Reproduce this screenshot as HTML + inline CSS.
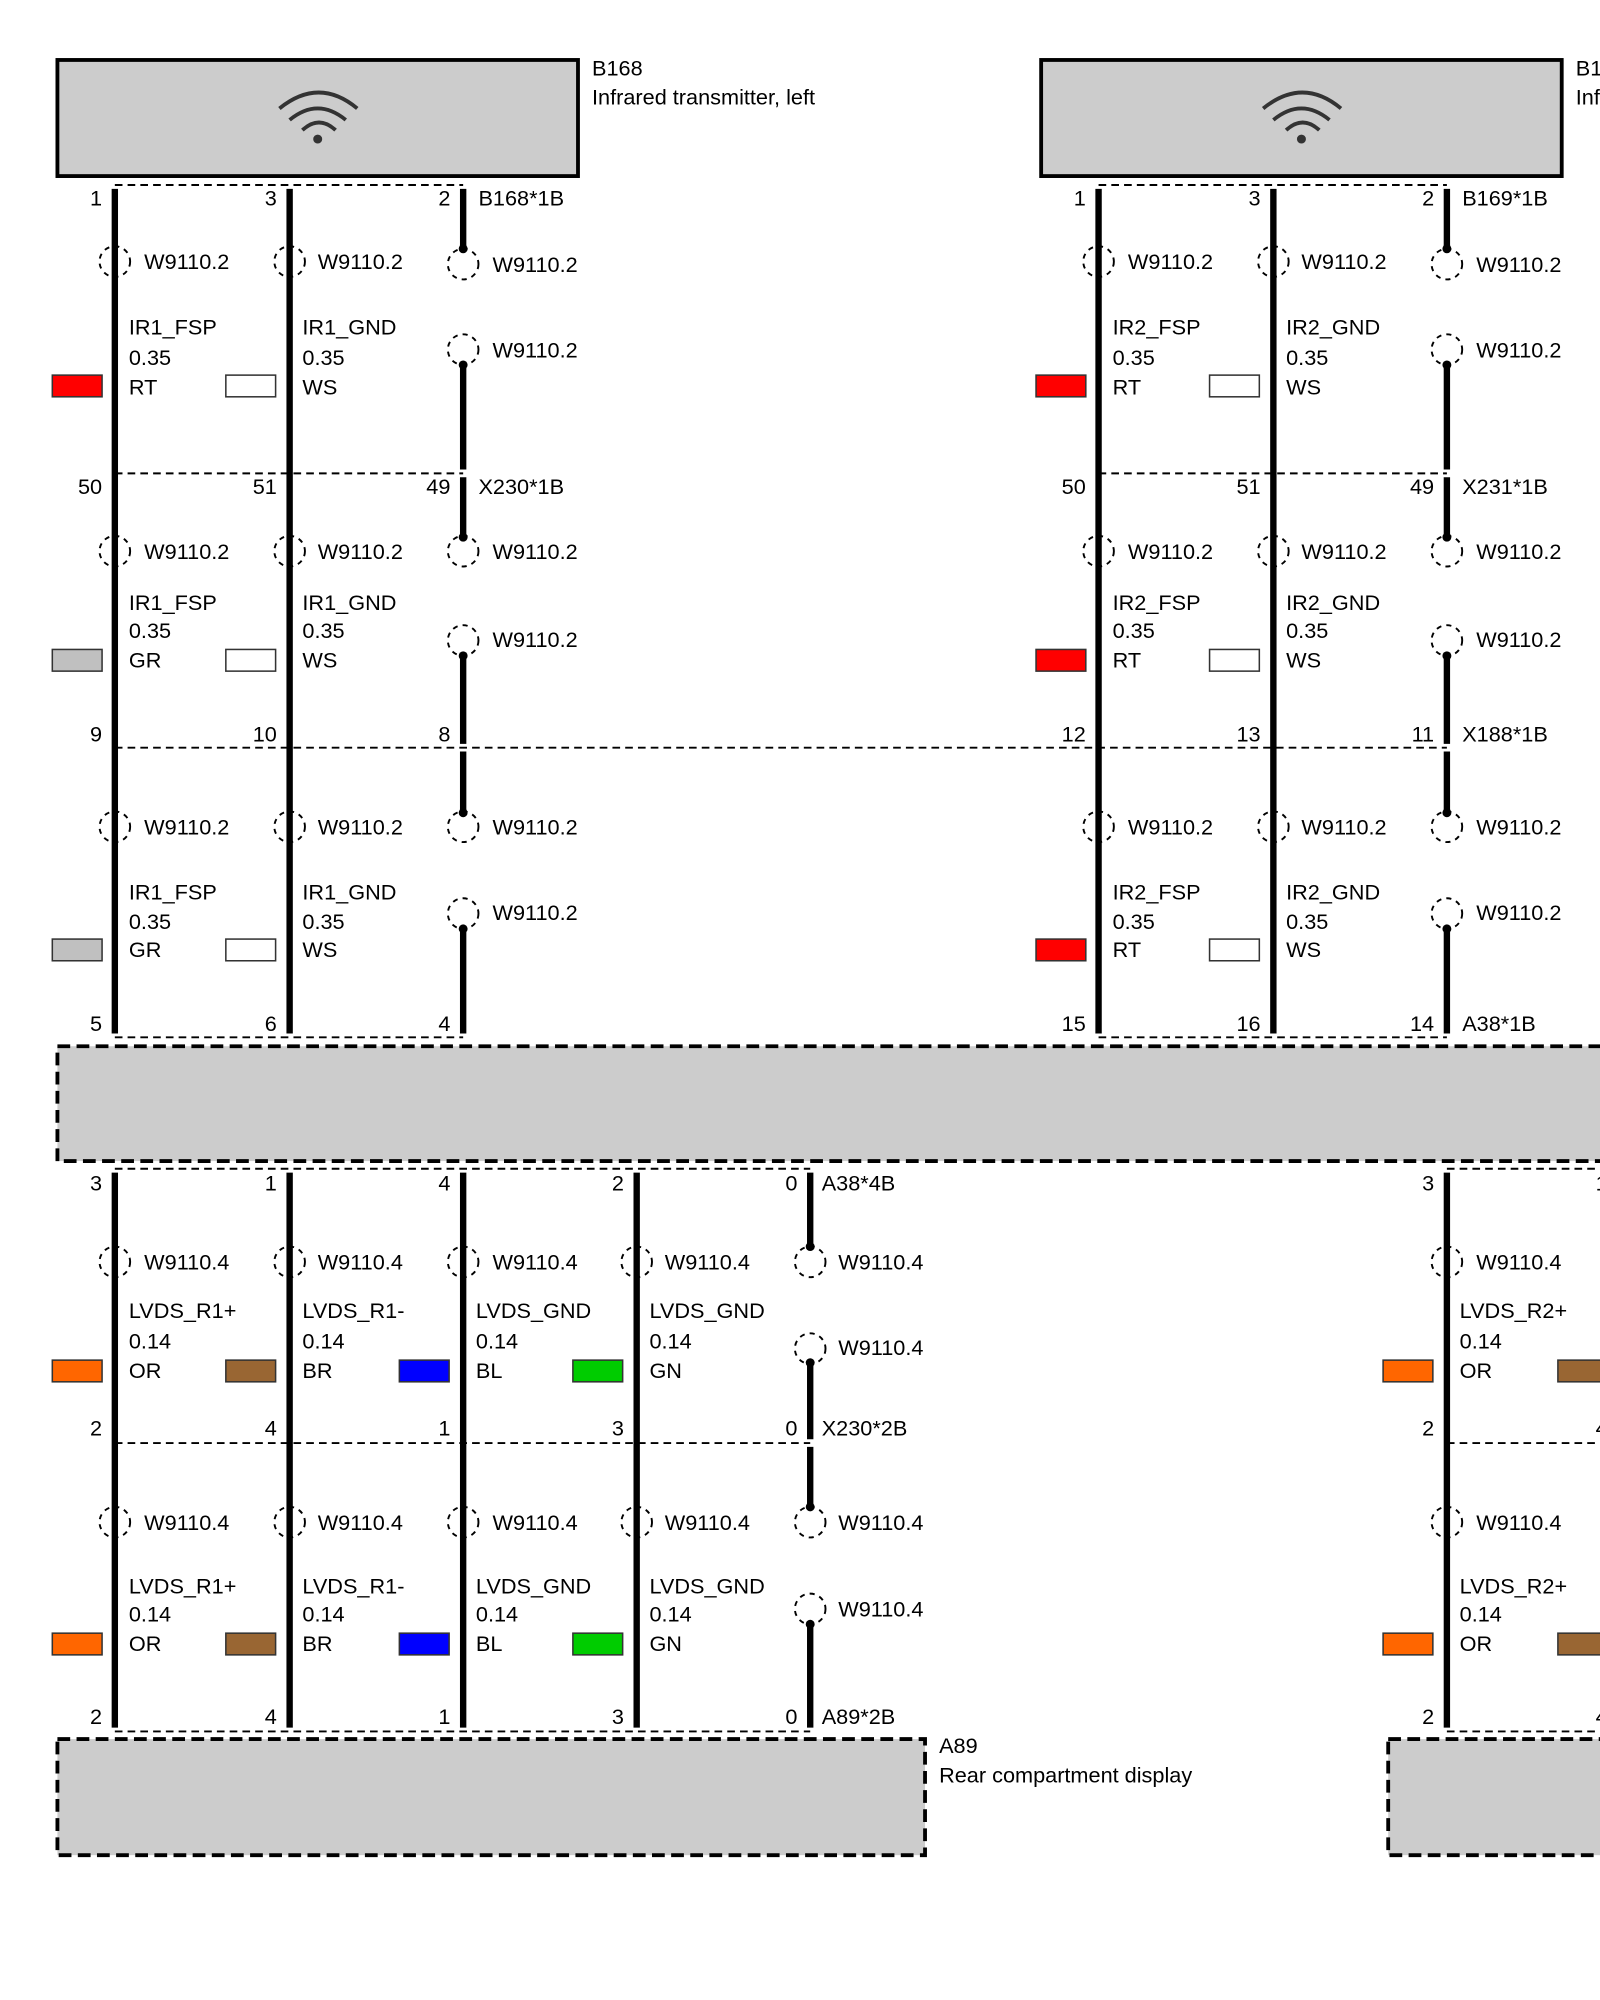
<!DOCTYPE html>
<html><head><meta charset="utf-8"><style>
html,body{margin:0;padding:0;background:#fff;overflow:hidden}
svg{display:block}
text{font-family:"Liberation Sans",sans-serif;font-size:17px;fill:#000}
.w{stroke:#000;stroke-width:5;fill:none}
.d{stroke:#000;stroke-width:1.5;stroke-dasharray:6,4;fill:none}
.c{stroke:#000;stroke-width:1.5;stroke-dasharray:4,4;fill:none}
.e{text-anchor:end}
.sw{stroke:#333;stroke-width:1.2}
.a{stroke:#333;stroke-width:3;fill:none}
</style></head><body>
<svg width="1600" height="2000" viewBox="0 0 1254 1567.5" xmlns="http://www.w3.org/2000/svg">
<!-- Top boxes -->
<rect x="45" y="47" width="408" height="91" fill="#ccc" stroke="#000" stroke-width="3"/>
<rect x="816" y="47" width="408" height="91" fill="#ccc" stroke="#000" stroke-width="3"/>
<g id="wifi">
<path class="a" d="M219 85 Q250 60 280 85"/><path class="a" d="M227 94 Q249 76 271 94"/><path class="a" d="M237 102 Q250 90 263 102"/><circle cx="249" cy="109" r="3.5" fill="#333"/>
</g>
<g transform="translate(771,0)"><path class="a" d="M219 85 Q250 60 280 85"/><path class="a" d="M227 94 Q249 76 271 94"/><path class="a" d="M237 102 Q250 90 263 102"/><circle cx="249" cy="109" r="3.5" fill="#333"/></g>
<text x="464" y="59">B168</text><text x="464" y="82">Infrared transmitter, left</text>
<text x="1235" y="59">B169</text><text x="1235" y="82">Infrared transmitter, right</text>

<!-- dashed connector lines -->
<path class="d" d="M90 145H363M861 145H1134M90 371H363M861 371H1134M90 586H1134M90 813H363M861 813H1134"/>
<path class="d" d="M90 916H635M1134 916H1254M90 1131H635M1134 1131H1254M90 1357H635M1134 1357H1254"/>

<!-- A38 box -->
<rect x="45" y="820" width="1230" height="90" fill="#ccc" stroke="#000" stroke-width="3" stroke-dasharray="10,5"/>
<!-- A89 boxes -->
<rect x="45" y="1363" width="680" height="91" fill="#ccc" stroke="#000" stroke-width="3" stroke-dasharray="10,5"/>
<rect x="1088" y="1363" width="200" height="91" fill="#ccc" stroke="#000" stroke-width="3" stroke-dasharray="10,5"/>
<text x="736" y="1374">A89</text><text x="736" y="1397">Rear compartment display</text>

<!-- full wires -->
<path class="w" d="M90 148V810M227 148V810M861 148V810M998 148V810"/>
<path class="w" d="M90 919V1354M227 919V1354M363 919V1354M499 919V1354M1134 919V1354M1270 919V1354"/>
<!-- partial wires (third columns) -->
<path class="w" d="M363 148V195M363 286V368M363 374V421M363 514V583M363 589V637M363 728V810"/>
<path class="w" d="M1134 148V195M1134 286V368M1134 374V421M1134 514V583M1134 589V637M1134 728V810"/>
<path class="w" d="M635 919V977M635 1068V1128M635 1134V1181M635 1273V1354"/>
<!-- dots -->
<g fill="#000">
<circle cx="363" cy="195" r="3.5"/><circle cx="363" cy="286" r="3.5"/><circle cx="363" cy="421" r="3.5"/><circle cx="363" cy="514" r="3.5"/><circle cx="363" cy="637" r="3.5"/><circle cx="363" cy="728" r="3.5"/>
<circle cx="1134" cy="195" r="3.5"/><circle cx="1134" cy="286" r="3.5"/><circle cx="1134" cy="421" r="3.5"/><circle cx="1134" cy="514" r="3.5"/><circle cx="1134" cy="637" r="3.5"/><circle cx="1134" cy="728" r="3.5"/>
<circle cx="635" cy="977" r="3.5"/><circle cx="635" cy="1068" r="3.5"/><circle cx="635" cy="1181" r="3.5"/><circle cx="635" cy="1273" r="3.5"/>
</g>
<!-- shield circles -->
<g class="c">
<circle cx="90" cy="205" r="12"/><circle cx="227" cy="205" r="12"/><circle cx="363" cy="207" r="12"/><circle cx="363" cy="274" r="12"/>
<circle cx="861" cy="205" r="12"/><circle cx="998" cy="205" r="12"/><circle cx="1134" cy="207" r="12"/><circle cx="1134" cy="274" r="12"/>
<circle cx="90" cy="432" r="12"/><circle cx="227" cy="432" r="12"/><circle cx="363" cy="432" r="12"/><circle cx="363" cy="502" r="12"/>
<circle cx="861" cy="432" r="12"/><circle cx="998" cy="432" r="12"/><circle cx="1134" cy="432" r="12"/><circle cx="1134" cy="502" r="12"/>
<circle cx="90" cy="648" r="12"/><circle cx="227" cy="648" r="12"/><circle cx="363" cy="648" r="12"/><circle cx="363" cy="716" r="12"/>
<circle cx="861" cy="648" r="12"/><circle cx="998" cy="648" r="12"/><circle cx="1134" cy="648" r="12"/><circle cx="1134" cy="716" r="12"/>
<circle cx="90" cy="989" r="12"/><circle cx="227" cy="989" r="12"/><circle cx="363" cy="989" r="12"/><circle cx="499" cy="989" r="12"/><circle cx="635" cy="989" r="12"/><circle cx="635" cy="1057" r="12"/><circle cx="1134" cy="989" r="12"/>
<circle cx="90" cy="1193" r="12"/><circle cx="227" cy="1193" r="12"/><circle cx="363" cy="1193" r="12"/><circle cx="499" cy="1193" r="12"/><circle cx="635" cy="1193" r="12"/><circle cx="635" cy="1261" r="12"/><circle cx="1134" cy="1193" r="12"/>
</g>

<!-- pin numbers & connector labels -->
<text class="e" x="80" y="161">1</text><text class="e" x="217" y="161">3</text><text class="e" x="353" y="161">2</text><text x="375" y="161">B168*1B</text>
<text class="e" x="851" y="161">1</text><text class="e" x="988" y="161">3</text><text class="e" x="1124" y="161">2</text><text x="1146" y="161">B169*1B</text>
<text class="e" x="80" y="387">50</text><text class="e" x="217" y="387">51</text><text class="e" x="353" y="387">49</text><text x="375" y="387">X230*1B</text>
<text class="e" x="851" y="387">50</text><text class="e" x="988" y="387">51</text><text class="e" x="1124" y="387">49</text><text x="1146" y="387">X231*1B</text>
<text class="e" x="80" y="581">9</text><text class="e" x="217" y="581">10</text><text class="e" x="353" y="581">8</text>
<text class="e" x="851" y="581">12</text><text class="e" x="988" y="581">13</text><text class="e" x="1124" y="581">11</text><text x="1146" y="581">X188*1B</text>
<text class="e" x="80" y="808">5</text><text class="e" x="217" y="808">6</text><text class="e" x="353" y="808">4</text>
<text class="e" x="851" y="808">15</text><text class="e" x="988" y="808">16</text><text class="e" x="1124" y="808">14</text><text x="1146" y="808">A38*1B</text>
<text class="e" x="80" y="933">3</text><text class="e" x="217" y="933">1</text><text class="e" x="353" y="933">4</text><text class="e" x="489" y="933">2</text><text class="e" x="625" y="933">0</text><text x="644" y="933">A38*4B</text><text class="e" x="1124" y="933">3</text><text class="e" x="1260" y="933">1</text>
<text class="e" x="80" y="1125">2</text><text class="e" x="217" y="1125">4</text><text class="e" x="353" y="1125">1</text><text class="e" x="489" y="1125">3</text><text class="e" x="625" y="1125">0</text><text x="644" y="1125">X230*2B</text><text class="e" x="1124" y="1125">2</text><text class="e" x="1260" y="1125">4</text>
<text class="e" x="80" y="1351">2</text><text class="e" x="217" y="1351">4</text><text class="e" x="353" y="1351">1</text><text class="e" x="489" y="1351">3</text><text class="e" x="625" y="1351">0</text><text x="644" y="1351">A89*2B</text><text class="e" x="1124" y="1351">2</text><text class="e" x="1260" y="1351">4</text>

<!-- W labels -->
<text x="113" y="211">W9110.2</text><text x="249" y="211">W9110.2</text><text x="386" y="213">W9110.2</text><text x="386" y="280">W9110.2</text>
<text x="884" y="211">W9110.2</text><text x="1020" y="211">W9110.2</text><text x="1157" y="213">W9110.2</text><text x="1157" y="280">W9110.2</text>
<text x="113" y="438">W9110.2</text><text x="249" y="438">W9110.2</text><text x="386" y="438">W9110.2</text><text x="386" y="507">W9110.2</text>
<text x="884" y="438">W9110.2</text><text x="1020" y="438">W9110.2</text><text x="1157" y="438">W9110.2</text><text x="1157" y="507">W9110.2</text>
<text x="113" y="654">W9110.2</text><text x="249" y="654">W9110.2</text><text x="386" y="654">W9110.2</text><text x="386" y="721">W9110.2</text>
<text x="884" y="654">W9110.2</text><text x="1020" y="654">W9110.2</text><text x="1157" y="654">W9110.2</text><text x="1157" y="721">W9110.2</text>
<text x="113" y="995">W9110.4</text><text x="249" y="995">W9110.4</text><text x="386" y="995">W9110.4</text><text x="521" y="995">W9110.4</text><text x="657" y="995">W9110.4</text><text x="657" y="1062">W9110.4</text><text x="1157" y="995">W9110.4</text>
<text x="113" y="1199">W9110.4</text><text x="249" y="1199">W9110.4</text><text x="386" y="1199">W9110.4</text><text x="521" y="1199">W9110.4</text><text x="657" y="1199">W9110.4</text><text x="657" y="1267">W9110.4</text><text x="1157" y="1199">W9110.4</text>

<!-- wire names -->
<text x="101" y="262">IR1_FSP</text><text x="101" y="286">0.35</text><text x="101" y="309">RT</text>
<text x="237" y="262">IR1_GND</text><text x="237" y="286">0.35</text><text x="237" y="309">WS</text>
<text x="872" y="262">IR2_FSP</text><text x="872" y="286">0.35</text><text x="872" y="309">RT</text>
<text x="1008" y="262">IR2_GND</text><text x="1008" y="286">0.35</text><text x="1008" y="309">WS</text>
<text x="101" y="478">IR1_FSP</text><text x="101" y="500">0.35</text><text x="101" y="523">GR</text>
<text x="237" y="478">IR1_GND</text><text x="237" y="500">0.35</text><text x="237" y="523">WS</text>
<text x="872" y="478">IR2_FSP</text><text x="872" y="500">0.35</text><text x="872" y="523">RT</text>
<text x="1008" y="478">IR2_GND</text><text x="1008" y="500">0.35</text><text x="1008" y="523">WS</text>
<text x="101" y="705">IR1_FSP</text><text x="101" y="728">0.35</text><text x="101" y="750">GR</text>
<text x="237" y="705">IR1_GND</text><text x="237" y="728">0.35</text><text x="237" y="750">WS</text>
<text x="872" y="705">IR2_FSP</text><text x="872" y="728">0.35</text><text x="872" y="750">RT</text>
<text x="1008" y="705">IR2_GND</text><text x="1008" y="728">0.35</text><text x="1008" y="750">WS</text>
<g>
<text x="101" y="1033">LVDS_R1+</text><text x="101" y="1057">0.14</text><text x="101" y="1080">OR</text>
<text x="237" y="1033">LVDS_R1-</text><text x="237" y="1057">0.14</text><text x="237" y="1080">BR</text>
<text x="373" y="1033">LVDS_GND</text><text x="373" y="1057">0.14</text><text x="373" y="1080">BL</text>
<text x="509" y="1033">LVDS_GND</text><text x="509" y="1057">0.14</text><text x="509" y="1080">GN</text>
<text x="1144" y="1033">LVDS_R2+</text><text x="1144" y="1057">0.14</text><text x="1144" y="1080">OR</text>
<text x="101" y="1249">LVDS_R1+</text><text x="101" y="1271">0.14</text><text x="101" y="1294">OR</text>
<text x="237" y="1249">LVDS_R1-</text><text x="237" y="1271">0.14</text><text x="237" y="1294">BR</text>
<text x="373" y="1249">LVDS_GND</text><text x="373" y="1271">0.14</text><text x="373" y="1294">BL</text>
<text x="509" y="1249">LVDS_GND</text><text x="509" y="1271">0.14</text><text x="509" y="1294">GN</text>
<text x="1144" y="1249">LVDS_R2+</text><text x="1144" y="1271">0.14</text><text x="1144" y="1294">OR</text>
</g>

<!-- swatches -->
<g class="sw">
<rect x="41" y="294" width="39" height="17" fill="#ff0000"/><rect x="177" y="294" width="39" height="17" fill="#fff"/>
<rect x="812" y="294" width="39" height="17" fill="#ff0000"/><rect x="948" y="294" width="39" height="17" fill="#fff"/>
<rect x="41" y="509" width="39" height="17" fill="#c0c0c0"/><rect x="177" y="509" width="39" height="17" fill="#fff"/>
<rect x="812" y="509" width="39" height="17" fill="#ff0000"/><rect x="948" y="509" width="39" height="17" fill="#fff"/>
<rect x="41" y="736" width="39" height="17" fill="#c0c0c0"/><rect x="177" y="736" width="39" height="17" fill="#fff"/>
<rect x="812" y="736" width="39" height="17" fill="#ff0000"/><rect x="948" y="736" width="39" height="17" fill="#fff"/>
<rect x="41" y="1066" width="39" height="17" fill="#ff6600"/><rect x="177" y="1066" width="39" height="17" fill="#996633"/><rect x="313" y="1066" width="39" height="17" fill="#0000ff"/><rect x="449" y="1066" width="39" height="17" fill="#00cc00"/>
<rect x="1084" y="1066" width="39" height="17" fill="#ff6600"/><rect x="1221" y="1066" width="39" height="17" fill="#996633"/>
<rect x="41" y="1280" width="39" height="17" fill="#ff6600"/><rect x="177" y="1280" width="39" height="17" fill="#996633"/><rect x="313" y="1280" width="39" height="17" fill="#0000ff"/><rect x="449" y="1280" width="39" height="17" fill="#00cc00"/>
<rect x="1084" y="1280" width="39" height="17" fill="#ff6600"/><rect x="1221" y="1280" width="39" height="17" fill="#996633"/>
</g>
</svg>
</body></html>
